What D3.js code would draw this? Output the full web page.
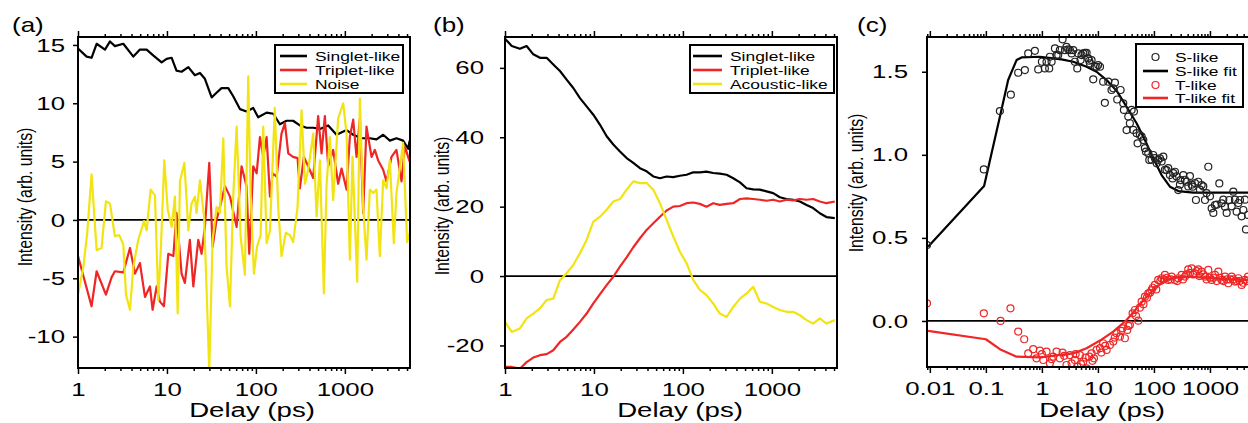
<!DOCTYPE html>
<html>
<head>
<meta charset="utf-8">
<script src="https://cdn.jsdelivr.net/npm/d3@7"></script>
<style>
  body { margin: 0; background: #fff; }
  svg { display: block; }
  text { font-family: "Liberation Sans", Arial, sans-serif; fill: #000; }
</style>
</head>
<body>
<svg id="fig" width="1248" height="423"></svg>
<script>
// ---- (a) components: [delay ps, intensity] ----
const aSinglet = [[1.0,14.7],[1.25,14.0],[1.42,13.9],[1.62,15.1],[2.01,14.6],[2.29,15.3],[2.6,14.9],[3.23,15.1],[4.19,14.0],[4.97,14.6],[5.91,14.6],[7.0,14.1],[8.71,13.5],[9.91,13.8],[11.3,13.9],[12.8,12.8],[14.6,12.7],[17.4,13.1],[20.6,12.4],[23.5,12.6],[26.7,12.1],[31.8,10.5],[36.1,10.9],[41.1,11.3],[48.9,11.3],[55.6,10.6],[66.1,9.5],[78.5,9.3],[93.3,9.6],[106,8.8],[132,9.2],[157,9.1],[186,8.2],[221,8.5],[262,8.5],[312,8.1],[371,7.9],[441,7.9],[524,7.8],[650,8.1],[806,7.3],[1045,7.7],[1241,7.3],[1539,7.0],[1909,7.0],[2268,6.9],[2697,7.3],[3206,6.8],[3802,7.0],[4519,6.8],[5150,6.1],[5350,6.8]];
const aTriplet = [[1.0,-3.1],[1.42,-7.4],[1.62,-4.4],[2.06,-6.4],[2.39,-4.9],[2.6,-4.4],[3.23,-4.5],[3.84,-2.4],[4.37,-4.6],[4.97,-3.7],[5.66,-6.6],[6.44,-5.7],[6.9,-7.7],[7.66,-5.7],[8.34,-7.0],[9.25,-7.4],[10.35,-2.9],[11.8,-3.1],[12.8,0.6],[14.6,-4.6],[15.9,-5.4],[18.1,-1.7],[19.8,-5.7],[22.5,-1.7],[24.5,-2.9],[26.7,-0.6],[29.9,4.9],[32.6,-2.3],[36.1,0],[39.4,1.1],[44.9,2.9],[51.1,2.0],[60.7,-0.6],[69,4.6],[78.5,2.9],[84.2,-2.9],[93.3,4.6],[102,4.0],[111,7.1],[121,5.4],[132,7.1],[144,2.0],[154,4.0],[171,3.7],[194,7.4],[212,8.3],[231,5.7],[262,5.4],[294,5.3],[312,2.7],[346,5.4],[387,4.6],[441,3.6],[501,8.9],[547,5.7],[596,8.9],[650,4.6],[739,6.0],[841,3.1],[918,4.4],[1045,2.6],[1138,7.1],[1241,8.6],[1353,5.4],[1475,8.7],[1607,0.6],[1751,8.0],[1995,5.4],[2173,6.0],[2369,5.1],[2697,4.3],[2938,3.3],[3343,5.4],[3802,6.0],[4335,3.3],[4720,6.3],[5350,5.0]];
const aNoise = [[1.0,-6.4],[1.15,-4.0],[1.27,-1.1],[1.42,3.9],[1.62,-2.6],[1.84,-2.4],[2.06,1.6],[2.29,1.4],[2.6,-1.4],[2.91,-1.3],[3.23,-2.1],[3.46,-6.4],[3.84,-7.7],[4.19,-4.0],[4.76,-1.7],[5.52,-0.1],[5.91,-0.9],[6.55,2.6],[7.33,2.1],[8.0,-6.9],[8.56,-2.3],[9.33,5.1],[10.2,0.9],[11.3,-0.6],[12.3,2.0],[13.2,-8.0],[14.0,3.3],[15.7,4.9],[17.4,-0.9],[18.9,1.4],[20.6,2.0],[21.5,0.6],[23.5,3.4],[26.1,0.3],[27.9,-6.0],[29.9,-12.9],[32.6,-1.7],[36.1,1.1],[39.4,0.6],[43.0,7.0],[46.8,-4.0],[51.1,-7.4],[55.6,2.0],[60.7,8.0],[67.3,-1.4],[75.2,-4.7],[82.0,12.3],[87.1,2.3],[95.0,-4.6],[103,-2.3],[113,-1.3],[121,8.0],[132,-2.0],[144,-0.9],[163,9.6],[178,1.1],[194,-3.1],[217,-1.1],[241,-1.3],[262,-1.9],[294,1.1],[326,9.4],[356,3.1],[387,4.3],[441,7.4],[481,0.3],[524,5.1],[581,-6.3],[622,2.9],[678,7.1],[739,1.7],[841,8.7],[958,10.0],[1045,7.4],[1138,-3.4],[1219,5.4],[1377,-5.3],[1475,10.4],[1607,1.1],[1751,-3.4],[1909,2.6],[2081,2.3],[2268,2.6],[2473,-3.1],[2697,3.4],[2938,2.7],[3206,5.1],[3554,-2.0],[3802,2.3],[4519,6.6],[5012,-1.9],[5350,-1.1]];

// ---- (b) components, sampled on shared delays ----
const bDelays = [1,1.19,1.47,1.75,2.08,2.47,2.94,3.49,4.15,4.93,5.86,6.96,8.27,9.84,11.7,13.9,16.5,19.6,23.3,27.7,32.9,39.1,46.5,55.2,65.6,78,92.5,110,131,155,184,219,260,310,368,438,520,617,733,871,1035,1230,1462,1738,2065,2455,2912,3460,4110,5100];
const bSinglet = [68.4,66.3,65.5,66.3,63.9,62.9,62.9,61.0,59.1,56.6,54.2,51.3,48.9,46.5,43.6,40.3,37.9,35.9,34.0,32.6,31.1,30.2,28.7,28.2,28.7,28.5,28.9,29.2,29.9,29.9,30.1,29.7,29.5,29.2,28.2,27.0,25.3,25.0,24.9,24.4,23.9,22.7,22.2,22.0,21.5,20.5,19.6,18.1,17.0,16.7];
const bTriplet = [-26.2,-26.2,-26.7,-24.8,-23.5,-22.8,-22.5,-21.4,-19.0,-17.5,-15.4,-13.2,-10.8,-7.9,-5.2,-2.6,-0.2,2.7,5.4,8.3,10.9,13.3,15.2,17.1,18.9,20.0,20.2,21.0,21.2,20.8,20.0,21.0,20.5,20.8,21.0,22.2,22.4,22.2,22.0,21.7,22.0,21.5,22.0,21.8,22.2,22.0,22.2,21.5,21.0,21.5];
const bAcoustic = [-13.2,-16.1,-15.1,-12.2,-10.8,-9.3,-6.9,-6.5,-1.2,0.8,3.2,6.6,10.4,15.7,17.1,19.1,21.5,22.2,24.9,27.3,26.8,26.8,24.9,21.0,16.2,11.4,7.0,3.7,-1.2,-4.0,-5.5,-7.9,-10.8,-11.8,-8.9,-6.5,-5.0,-3.1,-7.4,-7.9,-8.9,-9.8,-10.3,-10.3,-11.3,-12.7,-13.7,-12.2,-13.7,-12.7];

// ---- (c) kinetics and fits: [delay ps, intensity] ----
const cS = [[0.0089,0.457],[0.092,0.912],[0.178,1.263],[0.279,1.362],[0.378,1.494],[0.497,1.51],[0.57,1.61],[0.75,1.626],[0.86,1.514],[1.0,1.56],[1.13,1.52],[1.21,1.56],[1.35,1.52],[1.39,1.59],[1.49,1.56],[1.71,1.64],[1.83,1.60],[1.96,1.60],[2.09,1.63],[2.34,1.695],[2.58,1.63],[2.75,1.65],[2.95,1.634],[3.16,1.63],[3.39,1.61],[3.63,1.63],[3.88,1.56],[4.28,1.52],[4.46,1.61],[4.9,1.57],[5.11,1.60],[5.47,1.61],[5.86,1.614],[6.28,1.614],[6.72,1.58],[7.0,1.566],[7.2,1.55],[7.7,1.57],[8.26,1.454],[8.84,1.53],[9.47,1.53],[10.1,1.54],[10.9,1.53],[12.4,1.44],[13.3,1.313],[15.3,1.44],[17.5,1.39],[18.8,1.40],[20.1,1.434],[22.1,1.333],[25.4,1.39],[28.3,1.31],[29.1,1.27],[32.5,1.149],[34.8,1.23],[37.2,1.19],[39.9,1.27],[42.8,1.15],[44,1.26],[49,1.13],[51,1.069],[56,1.119],[60.3,1.11],[64.5,1.089],[69,1.04],[72,1.019],[79.2,1.01],[82.6,0.969],[90.8,0.97],[97,0.999],[104,0.98],[112,0.949],[119,0.97],[128,0.979],[137,0.96],[147,0.989],[157,0.91],[168,0.908],[180,0.92],[193,0.878],[215,0.858],[221,0.89],[237,0.898],[254,0.87],[272,0.788],[291,0.82],[299,0.848],[334,0.878],[358,0.85],[383,0.838],[410,0.81],[439,0.872],[471,0.82],[490,0.808],[540,0.83],[562,0.728],[619,0.838],[662,0.79],[710,0.818],[760,0.81],[815,0.728],[871,0.77],[934,0.928],[1000,0.75],[1072,0.678],[1148,0.65],[1228,0.698],[1315,0.70],[1468,0.828],[1616,0.708],[1730,0.73],[1854,0.688],[1986,0.65],[2215,0.728],[2438,0.69],[2611,0.778],[2794,0.73],[2995,0.658],[3206,0.71],[3436,0.728],[3673,0.63],[3940,0.668],[4217,0.73],[4395,0.551],[4777,0.638]];
const cSFit = [[0.0093,0.447],[0.093,0.812],[0.178,1.229],[0.25,1.45],[0.353,1.57],[0.434,1.586],[0.92,1.59],[1.59,1.58],[2.24,1.574],[3.63,1.56],[6.28,1.53],[9.47,1.50],[14.3,1.45],[21.5,1.386],[32.5,1.289],[49,1.19],[69,1.089],[97,0.979],[137,0.878],[193,0.808],[272,0.782],[504,0.772],[5400,0.772]];
const cT = [[0.0089,0.106],[0.092,0.046],[0.183,0.0],[0.275,0.076],[0.378,-0.064],[0.484,-0.110],[0.57,-0.195],[0.70,-0.170],[0.80,-0.225],[0.92,-0.178],[1.0,-0.20],[1.06,-0.235],[1.21,-0.184],[1.39,-0.255],[1.5,-0.23],[1.59,-0.215],[1.83,-0.184],[2.09,-0.225],[2.34,-0.19],[2.5,-0.21],[2.75,-0.265],[3.16,-0.205],[3.39,-0.255],[3.88,-0.235],[4.0,-0.20],[4.28,-0.275],[4.77,-0.205],[5.0,-0.26],[5.47,-0.245],[6.0,-0.22],[6.28,-0.285],[7.0,-0.215],[7.7,-0.195],[8.0,-0.24],[8.5,-0.225],[9.47,-0.174],[10.9,-0.164],[11.5,-0.19],[12.4,-0.134],[13.5,-0.15],[14.3,-0.174],[16.4,-0.144],[18.8,-0.124],[20,-0.10],[21.5,-0.074],[24.7,-0.094],[26,-0.06],[27.5,-0.044],[30.3,-0.104],[33.4,-0.054],[35,-0.03],[37.2,-0.024],[41.6,0.046],[45.8,0.066],[48,0.03],[52.5,0.002],[56,0.08],[60.3,0.116],[65,0.10],[69,0.146],[75,0.14],[79.2,0.166],[85,0.17],[90.8,0.186],[95,0.20],[104,0.217],[110,0.19],[119,0.247],[130,0.24],[137,0.257],[150,0.25],[157,0.277],[170,0.26],[180,0.247],[200,0.25],[207,0.267],[237,0.247],[260,0.24],[272,0.257],[312,0.277],[330,0.25],[358,0.267],[380,0.28],[410,0.311],[440,0.29],[471,0.317],[500,0.28],[540,0.287],[580,0.30],[619,0.311],[650,0.27],[710,0.297],[760,0.28],[815,0.267],[870,0.25],[934,0.307],[1000,0.26],[1072,0.247],[1150,0.26],[1228,0.277],[1320,0.24],[1409,0.297],[1500,0.26],[1616,0.247],[1750,0.24],[1854,0.267],[2000,0.25],[2123,0.227],[2300,0.25],[2438,0.267],[2600,0.25],[2794,0.237],[3000,0.24],[3206,0.257],[3400,0.24],[3673,0.217],[3900,0.23],[4217,0.247],[4500,0.24],[4777,0.267]];
const cTFit = [[0.0093,-0.060],[0.1,-0.110],[0.178,-0.170],[0.353,-0.215],[0.92,-0.219],[3.63,-0.195],[6.28,-0.164],[10.9,-0.118],[18.8,-0.064],[32.5,0.006],[49,0.076],[74,0.146],[112,0.207],[168,0.247],[291,0.267],[504,0.265],[1300,0.255],[5400,0.245]];

// ---- tick labels ----
const abMajors = [1, 10, 100, 1000];
const cMajors = [0.01, 0.1, 1, 10, 100, 1000];
const aYTicks = [15, 10, 5, 0, -5, -10];
const bYTicks = [60, 40, 20, 0, -20];
const cYTicks = [1.5, 1.0, 0.5, 0.0];

const RED = "#ef2626", YEL = "#f2e412";
const SX = 1.36; // the figure's lettering is stretched sideways
const svg = d3.select("#fig");

function drawPanel(p) {
  const x = d3.scaleLog().domain(p.xDomain).range([p.left, p.right]);
  const y = d3.scaleLinear().domain(p.yDomain).range([p.bottom, p.top]);

  const minors = [];
  p.decades.forEach(d => {
    for (let k = 2; k <= 9; k++) {
      const v = d * k;
      if (v >= p.xDomain[0] && v <= p.xDomain[1]) minors.push(v);
    }
  });

  svg.append("clipPath").attr("id", "clip" + p.name)
    .append("rect")
    .attr("x", p.left).attr("y", p.top)
    .attr("width", p.right - p.left).attr("height", p.bottom - p.top);

  const g = svg.append("g");
  const plot = g.append("g").attr("clip-path", `url(#clip${p.name})`);

  // zero line
  plot.append("line")
    .attr("x1", p.left).attr("x2", p.right)
    .attr("y1", y(0)).attr("y2", y(0))
    .attr("stroke", "#000").attr("stroke-width", 1.8);

  const line = d3.line().x(d => x(d[0])).y(d => y(d[1]));
  p.lines.forEach(s => {
    plot.append("path")
      .datum(s.data)
      .attr("fill", "none")
      .attr("stroke", s.color)
      .attr("stroke-width", 2.2)
      .attr("stroke-linejoin", "round")
      .attr("d", line);
  });
  (p.dots || []).forEach(s => {
    plot.selectAll(null)
      .data(s.data)
      .enter().append("circle")
        .attr("cx", d => x(d[0]))
        .attr("cy", d => y(d[1]))
        .attr("r", 3.5)
        .attr("fill", "none")
        .attr("stroke", s.color)
        .attr("stroke-width", 1.2);
  });

  // frame
  g.append("rect")
    .attr("x", p.left).attr("y", p.top)
    .attr("width", p.right - p.left).attr("height", p.bottom - p.top)
    .attr("fill", "none").attr("stroke", "#000").attr("stroke-width", 2);

  // axes
  const bottomMajor = g.append("g").attr("transform", `translate(0,${p.bottom})`)
    .call(d3.axisBottom(x).tickValues(p.majors).tickSize(6).tickPadding(9).tickFormat(d => String(d)));
  g.append("g").attr("transform", `translate(0,${p.bottom})`)
    .call(d3.axisBottom(x).tickValues(minors).tickSize(3).tickFormat(""));
  g.append("g").attr("transform", `translate(0,${p.top})`)
    .call(d3.axisTop(x).tickValues(p.majors).tickSize(6).tickFormat(""));
  g.append("g").attr("transform", `translate(0,${p.top})`)
    .call(d3.axisTop(x).tickValues(minors).tickSize(3).tickFormat(""));
  const leftAxis = g.append("g").attr("transform", `translate(${p.left},0)`)
    .call(d3.axisLeft(y).tickValues(p.yTicks).tickSize(5).tickFormat(p.yFmt));

  g.selectAll(".domain").remove();
  g.selectAll(".tick line").attr("stroke", "#000").attr("stroke-width", 1.5);
  bottomMajor.selectAll("text")
    .attr("font-size", 19).attr("font-family", "Liberation Sans, Arial, sans-serif")
    .attr("transform", `scale(${SX},1)`);
  leftAxis.selectAll("text")
    .attr("font-size", 19).attr("font-family", "Liberation Sans, Arial, sans-serif")
    .attr("x", -p.yGap / SX)
    .attr("transform", `scale(${SX},1)`);

  // axis titles
  g.append("text")
    .attr("text-anchor", "middle")
    .attr("font-size", 20)
    .attr("transform", `translate(${(p.left + p.right) / 2 + p.xTitleShift},417) scale(1.38,1)`)
    .text("Delay (ps)");
  g.append("text")
    .attr("text-anchor", "middle")
    .attr("font-size", 15.8)
    .attr("transform", `translate(${p.yTitle[0]},${p.yTitle[1]}) rotate(-90) scale(1,1.3)`)
    .text("Intensity (arb. units)");

  // panel letter
  g.append("text")
    .attr("font-size", 20)
    .attr("transform", `translate(${p.letterX},32) scale(1.3,1)`)
    .text(p.letter);

  // legend
  const L = p.legend;
  const lg = g.append("g");
  lg.append("rect")
    .attr("x", L.x0).attr("y", L.y0)
    .attr("width", L.x1 - L.x0).attr("height", L.y1 - L.y0)
    .attr("fill", "#fff").attr("stroke", "#000").attr("stroke-width", 2);
  L.items.forEach((it, i) => {
    const yy = L.rows[i];
    if (it.kind === "dot") {
      lg.append("circle")
        .attr("cx", (L.s0 + L.s1) / 2).attr("cy", yy).attr("r", 3.5)
        .attr("fill", "none").attr("stroke", it.color).attr("stroke-width", 1.2);
    } else {
      lg.append("line")
        .attr("x1", L.s0).attr("x2", L.s1).attr("y1", yy).attr("y2", yy)
        .attr("stroke", it.color).attr("stroke-width", 2.6);
    }
    lg.append("text")
      .attr("font-size", 13)
      .attr("transform", `translate(${L.tx},${yy + 4.6}) scale(1.34,1)`)
      .text(it.label);
  });
}

drawPanel({
  name: "a", letter: "(a)", letterX: 12,
  left: 78, right: 410, top: 37, bottom: 368,
  xDomain: [1, 5400], yDomain: [-12.69, 15.68],
  decades: [1, 10, 100, 1000], majors: abMajors,
  yTicks: aYTicks, yFmt: d => String(d), yGap: 13,
  xTitleShift: 8, yTitle: [32, 197],
  lines: [
    { data: aSinglet, color: "#000" },
    { data: aTriplet, color: RED },
    { data: aNoise, color: YEL }
  ],
  legend: {
    x0: 275, x1: 403, y0: 45, y1: 93, s0: 280, s1: 307, tx: 315, rows: [56, 70, 84],
    items: [
      { label: "Singlet-like", color: "#000" },
      { label: "Triplet-like", color: RED },
      { label: "Noise", color: YEL }
    ]
  }
});

drawPanel({
  name: "b", letter: "(b)", letterX: 433,
  left: 505, right: 837, top: 37, bottom: 368,
  xDomain: [1, 5400], yDomain: [-26.5, 68.9],
  decades: [1, 10, 100, 1000], majors: abMajors,
  yTicks: bYTicks, yFmt: d => String(d), yGap: 21,
  xTitleShift: 9, yTitle: [448.5, 206],
  lines: [
    { data: bDelays.map((t, i) => [t, bSinglet[i]]), color: "#000" },
    { data: bDelays.map((t, i) => [t, bTriplet[i]]), color: RED },
    { data: bDelays.map((t, i) => [t, bAcoustic[i]]), color: YEL }
  ],
  legend: {
    x0: 690, x1: 834, y0: 45, y1: 93, s0: 693, s1: 722, tx: 730, rows: [56, 70, 84],
    items: [
      { label: "Singlet-like", color: "#000" },
      { label: "Triplet-like", color: RED },
      { label: "Acoustic-like", color: YEL }
    ]
  }
});

drawPanel({
  name: "c", letter: "(c)", letterX: 857,
  left: 927, right: 1251, top: 37, bottom: 367,
  xDomain: [0.0089, 5400], yDomain: [-0.277, 1.709],
  decades: [0.001, 0.01, 0.1, 1, 10, 100, 1000], majors: cMajors,
  yTicks: cYTicks, yFmt: d3.format(".1f"), yGap: 19,
  xTitleShift: 13, yTitle: [863, 183],
  lines: [
    { data: cSFit, color: "#000" },
    { data: cTFit, color: RED }
  ],
  dots: [
    { data: cS, color: "#222" },
    { data: cT, color: RED }
  ],
  legend: {
    x0: 1136, x1: 1243, y0: 44, y1: 107, s0: 1143, s1: 1168, tx: 1175, rows: [57, 71, 85, 98],
    items: [
      { label: "S-like", color: "#222", kind: "dot" },
      { label: "S-like fit", color: "#000" },
      { label: "T-like", color: RED, kind: "dot" },
      { label: "T-like fit", color: RED }
    ]
  }
});
</script>
</body>
</html>
